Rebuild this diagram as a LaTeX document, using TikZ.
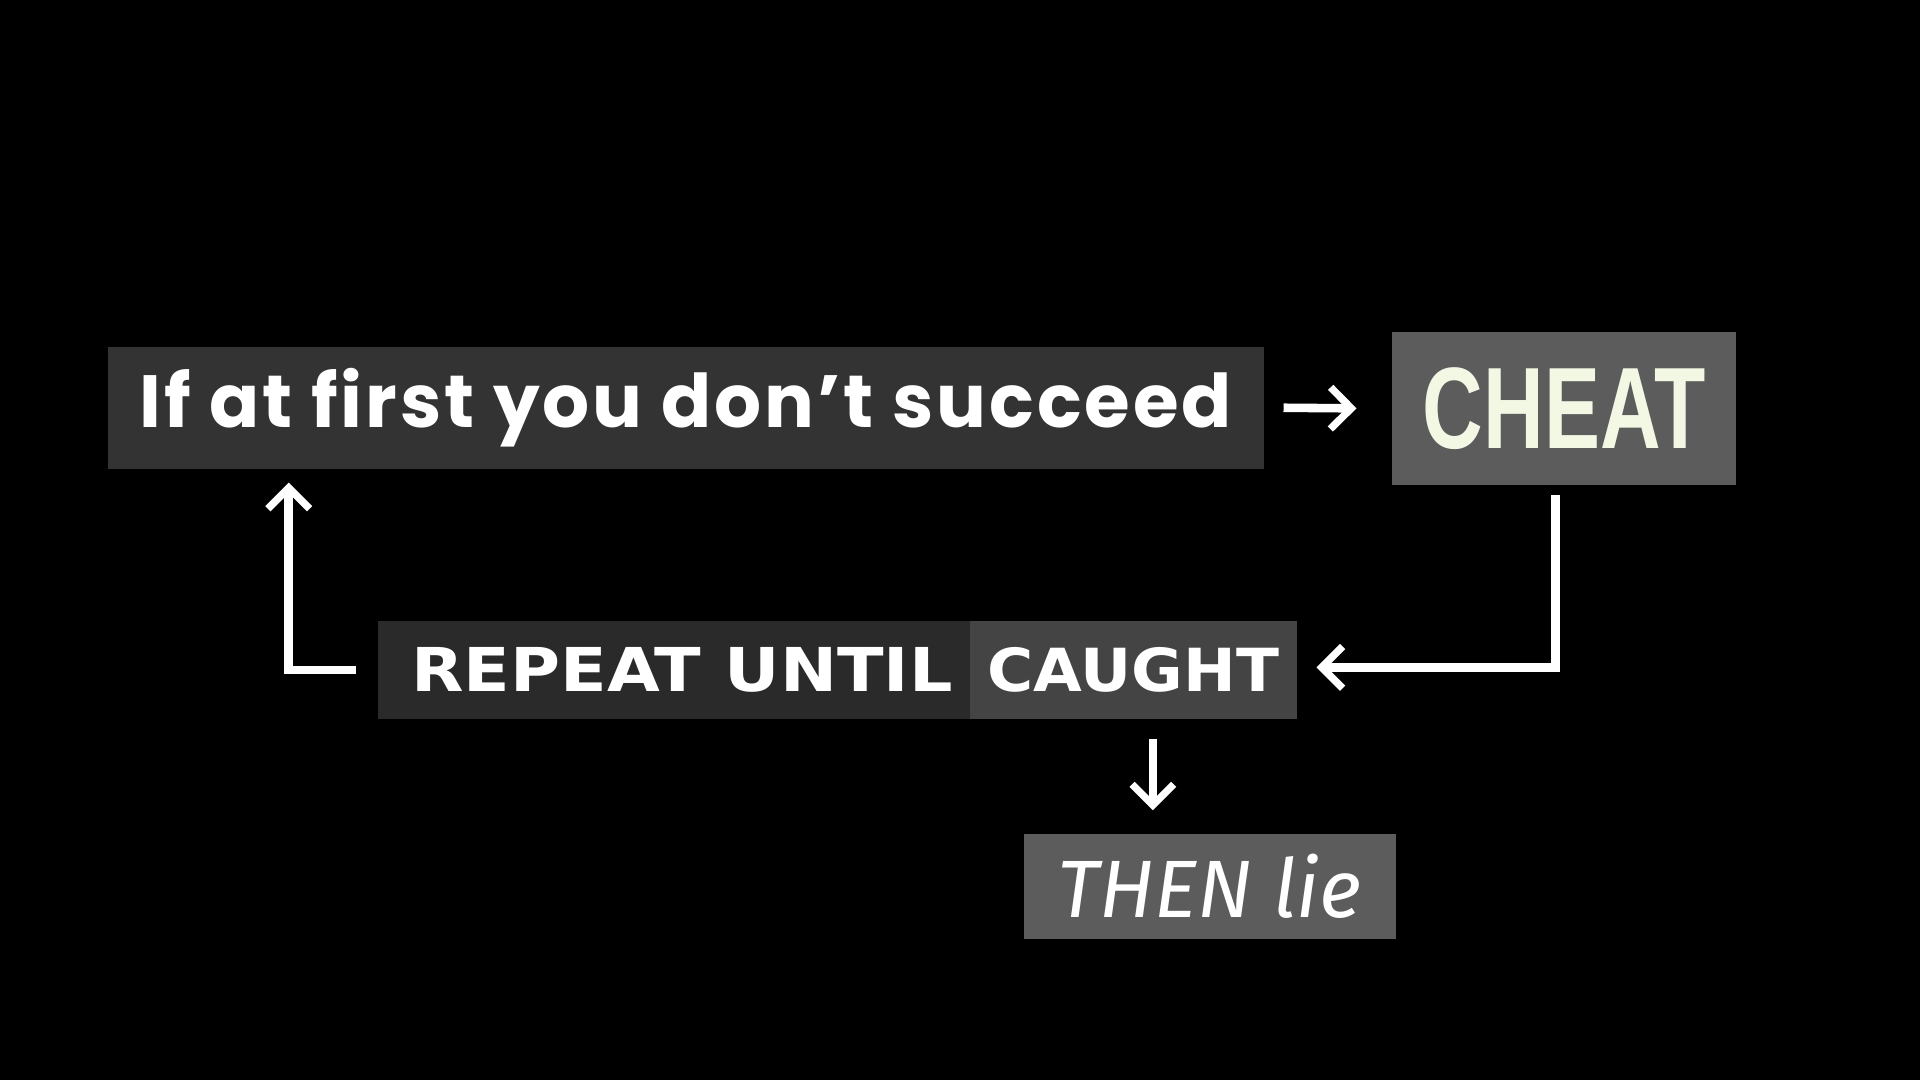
\documentclass[tikz,border=0pt]{standalone}
\usepackage{fontspec}
\usepackage{graphicx}
\usetikzlibrary{arrows.meta}
\newfontfamily\fmain{Poppins}[LetterSpace=4]
\newfontfamily\fblock{DejaVu Sans}
\newfontfamily\fcheat{Liberation Sans}
\newfontfamily\fbrush{Fira Sans}
\definecolor{boxA}{HTML}{333333}
\definecolor{boxB}{HTML}{5C5C5C}
\definecolor{boxC}{HTML}{2A2A2A}
\definecolor{boxD}{HTML}{444444}
\definecolor{cheattxt}{HTML}{F2F8E4}
\begin{document}
\begin{tikzpicture}[x=1pt,y=-1pt,
  box/.style={rectangle, inner sep=0pt, draw=none, text=white},
  arr/.style={draw=white, line width=7pt, -{Straight Barb[length=17pt,width=34pt,line width=6pt]}}]
\fill[black] (0,0) rectangle (1568,882);
\useasboundingbox (0,0) rectangle (1568,882);
\node[box, fill=boxA, minimum width=944pt, minimum height=100pt] (box1) at (560,333)
  {\raisebox{-3pt}{\resizebox{892pt}{!}{\fmain\bfseries If at first you don’t succeed}}};
\node[box, fill=boxB, minimum width=281pt, minimum height=125pt, text=cheattxt] (cheat) at (1277.5,333.5)
  {\resizebox{231pt}{66pt}{\fcheat\bfseries CHEAT}};
\node[box, fill=boxC, minimum width=483pt, minimum height=80pt] (rep) at (550.5,547)
  {\hspace*{13pt}\resizebox{442pt}{36pt}{\fblock\bfseries REPEAT UNTIL}};
\node[box, fill=boxD, minimum width=267pt, minimum height=80pt] (caught) at (925.5,547)
  {\resizebox{238pt}{36pt}{\fblock\bfseries CAUGHT}};
\node[box, fill=boxB, minimum width=304pt, minimum height=86pt] (then) at (988,724)
  {\resizebox{248pt}{!}{\fbrush\itshape THEN lie}};
\draw[arr] ([xshift=16pt]box1.east) -- ([xshift=-29pt]cheat.west);
\draw[arr] ([xshift=-7pt,yshift=-8pt]cheat.south) |- ([xshift=16pt,yshift=2pt]caught.east);
\draw[arr] ([xshift=-18pt]rep.west) -| ([xshift=148pt,yshift=-11pt]box1.south west);
\coordinate (d1) at ([xshift=16pt,yshift=-16pt]caught.south);
\coordinate (d2) at ([yshift=19pt]then.north);
\draw[arr] (d1) -- (d1 |- d2);
\end{tikzpicture}
\end{document}
